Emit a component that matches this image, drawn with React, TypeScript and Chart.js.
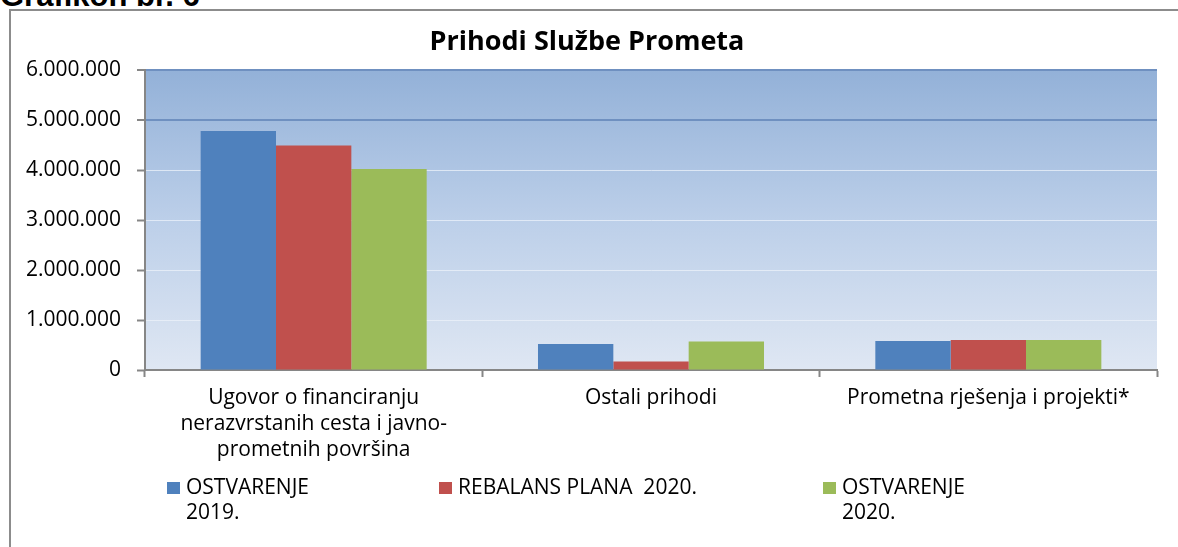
import React, { useEffect, useRef } from "react";
import { Chart, registerables } from "chart.js";

Chart.register(...registerables);

// ---- data ----
const categories: (string | string[])[] = [
  ["Ugovor o financiranju", "nerazvrstanih cesta i javno-", "prometnih površina"],
  "Ostali prihodi",
  "Prometna rješenja i projekti*",
];
const seriesNames = ["OSTVARENJE 2019.", "REBALANS PLANA  2020.", "OSTVARENJE 2020."];
const legendLines = [["OSTVARENJE", "2019."], ["REBALANS PLANA  2020."], ["OSTVARENJE", "2020."]];
const ostvarenje2019 = [4780000, 520000, 580000];
const rebalansPlana2020 = [4490000, 170000, 600000];
const ostvarenje2020 = [4020000, 570000, 600000];
const yMax = 6000000;
const yStep = 1000000;
const colors = ["#4F81BD", "#C0504D", "#9BBB59"];
const chartTitle = "Prihodi Službe Prometa";
const captionText = "Grafikon br. 6";

const FONT = "'Open Sans', 'DejaVu Sans', sans-serif";

const fmt = (n: number) => String(Math.round(n)).replace(/\B(?=(\d{3})+(?!\d))/g, ".");

const bgPlugin = {
  id: "bgGradient",
  beforeDraw(chart: any) {
    const { ctx, chartArea } = chart;
    if (!chartArea) return;
    const g = ctx.createLinearGradient(0, chartArea.top, 0, chartArea.bottom);
    g.addColorStop(0, "#93B1D8");
    g.addColorStop(0.5, "#BCCFE9");
    g.addColorStop(1, "#DFE7F3");
    ctx.save();
    ctx.fillStyle = g;
    ctx.fillRect(chartArea.left, chartArea.top, chartArea.right - chartArea.left, chartArea.bottom - chartArea.top);
    ctx.restore();
  },
};

const decorPlugin = {
  id: "decor",
  afterDraw(chart: any) {
    const { ctx } = chart;
    ctx.save();
    // title
    ctx.fillStyle = "#000";
    ctx.font = `bold 27px ${FONT}`;
    ctx.textAlign = "center";
    ctx.textBaseline = "alphabetic";
    ctx.fillText(chartTitle, 576, 39);
    // legend
    const boxX = [156, 428, 812];
    ctx.font = `21px ${FONT}`;
    ctx.textAlign = "left";
    ctx.textBaseline = "middle";
    chart.data.datasets.forEach((ds: any, i: number) => {
      ctx.fillStyle = ds.backgroundColor;
      ctx.fillRect(boxX[i], 471, 13, 12);
      ctx.fillStyle = "#000";
      legendLines[i].forEach((line, j) => {
        ctx.fillText(line, boxX[i] + 19, 477 + j * 25);
      });
    });
    ctx.restore();
  },
};

export default function App() {
  const canvasRef = useRef<HTMLCanvasElement | null>(null);

  useEffect(() => {
    if (!canvasRef.current) return;
    const series = [ostvarenje2019, rebalansPlana2020, ostvarenje2020];
    const chart = new Chart(canvasRef.current, {
      type: "bar",
      data: {
        labels: categories as any,
        datasets: series.map((d, i) => ({
          label: seriesNames[i],
          data: d,
          backgroundColor: colors[i],
          borderWidth: 0,
          categoryPercentage: 0.67,
          barPercentage: 1,
        })),
      },
      plugins: [bgPlugin, decorPlugin],
      options: {
        animation: false,
        responsive: true,
        maintainAspectRatio: false,
        layout: { padding: { top: 59, right: 21, bottom: 85, left: 0 } },
        plugins: {
          legend: { display: false },
          title: { display: false },
          tooltip: { enabled: false },
        },
        scales: {
          x: {
            offset: true,
            grid: {
              offset: true,
              drawOnChartArea: false,
              drawTicks: true,
              tickLength: 7,
              tickColor: "#868686",
              tickWidth: 2,
            },
            border: { display: true, color: "#868686", width: 2 },
            ticks: {
              color: "#000",
              padding: 8,
              maxRotation: 0,
              autoSkip: false,
              font: { family: FONT, size: 21, lineHeight: 26 / 21 },
            },
            afterFit: (scale: any) => {
              scale.height = 92;
            },
          },
          y: {
            min: 0,
            max: yMax,
            grid: {
              drawTicks: true,
              tickLength: 8,
              tickColor: "#868686",
              tickWidth: 2,
              color: (c: any) =>
                c.tick && c.tick.value >= 5000000 ? "#6F90C0" : "rgba(236,242,250,0.75)",
              lineWidth: (c: any) => (c.tick && c.tick.value >= 5000000 ? 2 : 1),
            },
            border: { display: true, color: "#868686", width: 2 },
            ticks: {
              stepSize: yStep,
              color: "#000",
              padding: 16,
              font: { family: FONT, size: 21 },
              callback: (v: any) => fmt(Number(v)),
            },
            afterFit: (scale: any) => {
              scale.width = 134;
            },
          },
        },
      } as any,
    });
    return () => chart.destroy();
  }, []);

  return (
    <div
      style={{
        position: "absolute",
        left: 0,
        top: 0,
        width: 1178,
        height: 547,
        overflow: "hidden",
        background: "#fff",
      }}
    >
      <div
        style={{
          position: "absolute",
          left: 0,
          top: -20,
          fontFamily: "'Liberation Sans', Arial, sans-serif",
          fontWeight: "bold",
          fontSize: 31,
          lineHeight: "31px",
          color: "#000",
          whiteSpace: "nowrap",
        }}
      >
        {captionText}
      </div>
      <div
        style={{
          position: "absolute",
          left: 9,
          top: 9,
          width: 1220,
          height: 600,
          border: "2px solid #8C8C8C",
          boxSizing: "border-box",
          background: "#fff",
        }}
      />
      <div style={{ position: "absolute", left: 11, top: 11, width: 1167, height: 536 }}>
        <canvas ref={canvasRef} />
      </div>
    </div>
  );
}
